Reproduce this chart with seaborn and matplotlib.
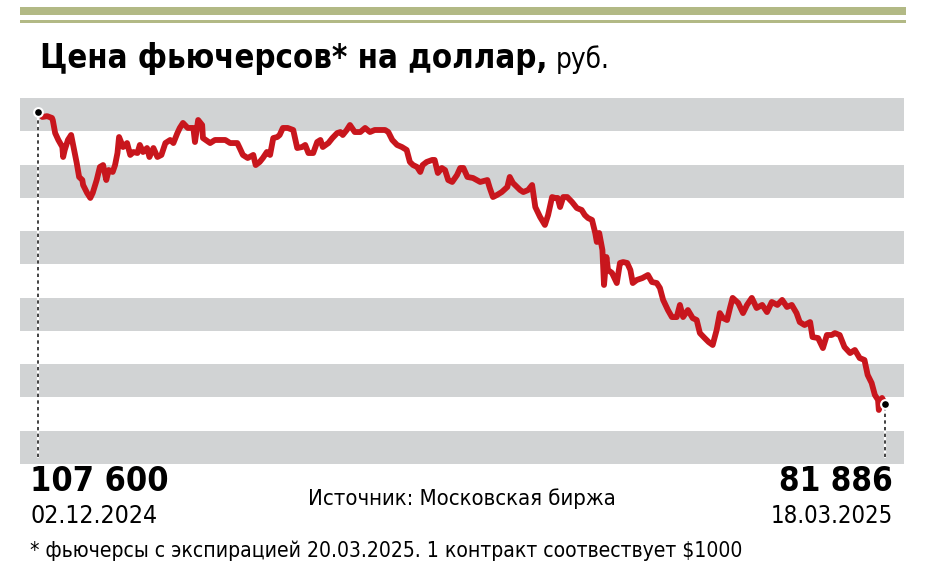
import numpy as np
import pandas as pd
import matplotlib
matplotlib.use('Agg')
import matplotlib.pyplot as plt
import seaborn as sns

# Days since 02.12.2024 and futures price, rub
day_offset = [
    0.0, 0.5, 1.1, 1.7, 1.8, 2.1, 2.5, 3.0, 3.1, 3.3, 3.7, 4.1, 4.3, 4.6, 4.8,
    5.1, 5.5, 5.6, 6.1, 6.5, 6.8, 7.3, 7.7, 8.1, 8.5, 8.8, 9.3, 9.6, 9.9, 10.1,
    10.6, 11.1, 11.5, 11.9, 12.4, 12.7, 13.1, 13.6, 13.9, 14.4, 14.9, 15.4, 15.9,
    16.5, 16.9, 17.4, 17.7, 18.1, 18.7, 19.4, 19.6, 20.0, 20.5, 20.6, 21.5, 22.1,
    22.7, 23.4, 24.0, 24.9, 25.2, 25.6, 26.2, 26.9, 27.2, 27.7, 28.1, 28.6, 29.0,
    29.4, 29.9, 30.2, 30.6, 31.2, 31.9, 32.4, 33.0, 33.4, 33.8, 34.4, 34.9, 35.3,
    35.6, 36.3, 36.8, 37.4, 37.8, 38.1, 38.6, 39.0, 39.6, 40.3, 40.9, 41.5, 42.1,
    42.8, 43.4, 43.8, 44.3, 44.9, 45.5, 46.1, 46.5, 46.9, 47.4, 47.8, 48.1, 48.6,
    49.3, 49.6, 50.0, 50.5, 50.9, 51.3, 51.8, 52.4, 52.8, 53.2, 53.7, 54.4, 55.3,
    56.2, 56.5, 56.9, 57.4, 58.0, 58.7, 59.0, 59.4, 59.9, 60.3, 60.7, 61.3, 61.8,
    62.2, 62.8, 63.4, 63.8, 64.3, 64.7, 65.0, 65.3, 65.7, 66.2, 66.8, 67.4, 68.0,
    68.4, 68.8, 69.3, 69.7, 69.9, 70.2, 70.6, 70.8, 71.1, 71.3, 71.8, 72.4, 72.8,
    73.2, 73.7, 74.1, 74.4, 74.9, 75.6, 76.3, 76.8, 77.4, 77.8, 78.2, 78.8, 79.3,
    79.9, 80.3, 80.7, 81.3, 81.9, 82.4, 82.8, 83.4, 83.9, 84.4, 84.9, 85.3, 85.7,
    86.2, 86.6, 86.9, 87.6, 88.2, 88.7, 89.3, 89.9, 90.6, 91.2, 91.8, 92.5, 93.1,
    93.7, 94.3, 94.9, 95.3, 95.9, 96.6, 96.9, 97.6, 98.2, 98.7, 99.3, 99.7, 100.3,
    100.9, 101.6, 102.2, 102.8, 103.4, 103.8, 104.3, 104.7, 105.1, 105.2, 105.6,
    106.0,
]
price = [
    107600, 107190, 107260, 107100, 106920, 105770, 105160, 104540, 103660,
    104280, 105160, 105600, 104890, 103840, 103130, 101900, 101630, 101190,
    100490, 100050, 100490, 101630, 102780, 102950, 101630, 102510, 102340,
    102950, 104010, 105420, 104540, 104890, 103840, 104100, 104010, 104720,
    104100, 104450, 103660, 104450, 103660, 103840, 104890, 105160, 104890,
    105770, 106220, 106660, 106220, 106220, 104980, 106920, 106480, 105330,
    104890, 105160, 105160, 105160, 104890, 104890, 104450, 103840, 103570,
    103840, 102950, 103220, 103570, 104100, 103840, 105330, 105420, 105600,
    106220, 106220, 106040, 104450, 104540, 104720, 104010, 104010, 104980,
    105160, 104540, 104890, 105330, 105770, 105860, 105600, 106040, 106480,
    105860, 105860, 106220, 105860, 106040, 106040, 106040, 105860, 105160,
    104720, 104540, 104280, 103220, 102950, 102780, 102340, 102950, 103220,
    103400, 103400, 102250, 102690, 102510, 101630, 101460, 102070, 102690,
    102690, 101900, 101810, 101460, 101630, 100930, 100130, 100310, 100570,
    101020, 101900, 101370, 101020, 100750, 100570, 100750, 101190, 99250,
    98370, 97670, 98540, 100130, 100050, 100050, 99250, 100130, 100130, 99690,
    99160, 98990, 98540, 98280, 98110, 96960, 96170, 96960, 95460, 92380,
    94840, 93700, 93440, 92550, 94320, 94400, 94320, 93700, 92550, 92820,
    92990, 93260, 92640, 92550, 92110, 91060, 90170, 89550, 89550, 90620,
    89550, 90170, 89460, 89290, 88140, 87700, 87350, 87090, 88410, 89900,
    89460, 89290, 90440, 91240, 90790, 89900, 90620, 91240, 90350, 90620,
    89990, 90880, 90620, 91060, 90440, 90620, 89900, 89110, 88850, 89110,
    87790, 87700, 86820, 87970, 87970, 88140, 87970, 86910, 86380, 86650,
    85940, 85770, 84450, 83740, 82690, 82250, 81360, 82420, 81886,
]

start_date = "2024-12-02"
start_label = "107 600"
end_label = "81 886"
start_date_label = "02.12.2024"
end_date_label = "18.03.2025"
title_bold = "Цена фьючерсов* на доллар,"
title_unit = "руб."
source_text = "Источник: Московская биржа"
footnote = "* фьючерсы с экспирацией 20.03.2025. 1 контракт соотвествует $1000"

df = pd.DataFrame({
    "date": pd.Timestamp(start_date) + pd.to_timedelta(day_offset, unit="D"),
    "price": price,
})

sns.set_theme(style="white")
plt.rcParams['font.family'] = ['DejaVu Sans']

RED = "#c8161d"
BAND = "#d1d3d4"
OLIVE = "#b2b985"

W, H = 930, 571
fig = plt.figure(figsize=(W / 100, H / 100), dpi=100)
fig.patch.set_facecolor("white")


def fx(px):
    return px / W


def fy(py):
    return 1 - py / H


def fit_text(x, y, s, width, ha="left", **kw):
    """Place text and shrink/grow its font size so it spans `width` pixels."""
    t = fig.text(fx(x), fy(y), s, ha=ha, va="baseline", color="black",
                 fontstretch="condensed", **kw)
    fig.canvas.draw()
    w = t.get_window_extent().width
    t.set_fontsize(t.get_fontsize() * width / w)
    return t


# top olive rules
fig.add_artist(plt.Rectangle((fx(20), fy(15)), fx(886), 8 / H, color=OLIVE, lw=0))
fig.add_artist(plt.Rectangle((fx(20), fy(23)), fx(886), 3 / H, color=OLIVE, lw=0))

ax = fig.add_axes([fx(20), fy(464), fx(884), (464 - 98) / H])
ax.set_facecolor("white")

ymin, ymax = 76600, 108860
ax.set_ylim(ymin, ymax)
step = (ymax - ymin) / 11
for i in range(0, 11, 2):
    top = ymax - i * step
    ax.axhspan(top - step, top, color=BAND, lw=0, zorder=0)

x0 = pd.Timestamp(start_date) - pd.Timedelta(days=2.3)
x1 = pd.Timestamp(start_date) + pd.Timedelta(days=108.35)
ax.set_xlim(x0, x1)

first = df.iloc[0]
last = df.iloc[-1]
for row in (first, last):
    ax.plot([row["date"], row["date"]], [ymin + 0.02 * (ymax - ymin), row["price"]],
            color="white", lw=1.6, zorder=1)
    ax.plot([row["date"], row["date"]], [ymin + 0.02 * (ymax - ymin), row["price"]],
            color="#222222", lw=1.2, ls=(0, (2, 2)), zorder=2)

sns.lineplot(data=df, x="date", y="price", ax=ax, color=RED, lw=4.2,
             zorder=3, solid_joinstyle="round", solid_capstyle="round")
ax.scatter([first["date"], last["date"]], [first["price"], last["price"]],
           s=40, color="black", edgecolor="white", linewidth=1.5, zorder=4)

ax.set_xlabel("")
ax.set_ylabel("")
ax.set_xticks([])
ax.set_yticks([])
for s in ax.spines.values():
    s.set_visible(False)

# title
t1 = fit_text(40, 68, title_bold, 508, fontsize=24, fontweight="bold")
fig.canvas.draw()
bb = t1.get_window_extent()
t2 = fit_text(bb.x1 + 8, 68, title_unit, 54, fontsize=24)

# bottom labels
fit_text(30, 491, start_label, 138, fontsize=22, fontweight="bold")
fit_text(893, 491, end_label, 114, ha="right", fontsize=22, fontweight="bold")
fit_text(30, 523, start_date_label, 127, fontsize=19)
fit_text(893, 523, end_date_label, 123, ha="right", fontsize=19)
fit_text(462, 505, source_text, 307, ha="center", fontsize=17)
fit_text(30, 557, footnote, 715, fontsize=16)

fig.savefig("out.png", dpi=100, facecolor="white")
